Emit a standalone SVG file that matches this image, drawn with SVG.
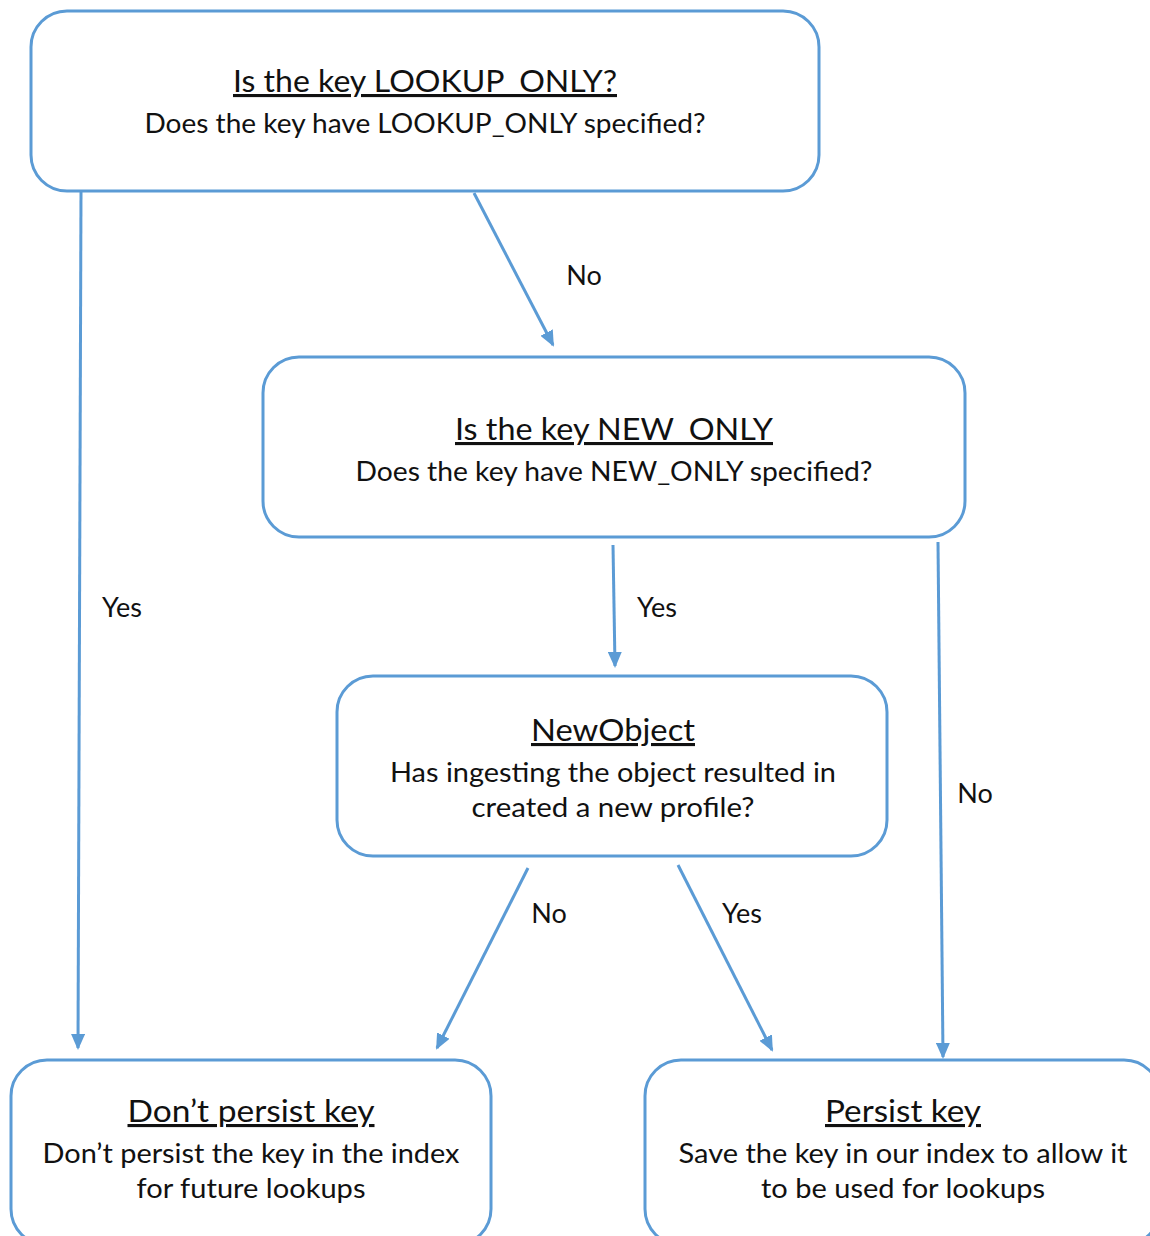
<svg xmlns="http://www.w3.org/2000/svg" width="1150" height="1236" viewBox="0 0 1150 1236">
<style>
.box{fill:#fff;stroke:#5B9BD5;stroke-width:3}
.t{font-family:Lato,"Open Sans","Liberation Sans",sans-serif;fill:#111;text-anchor:middle}
.h{font-size:31px;text-decoration:underline}
.s{font-size:26px}
.l{font-family:Lato,"Open Sans","Liberation Sans",sans-serif;fill:#111;font-size:27px;text-anchor:middle}
.c{stroke:#5B9BD5;stroke-width:3;fill:none;marker-end:url(#ah)}
</style>
<defs>
<marker id="ah" markerWidth="16" markerHeight="14" refX="14" refY="7" orient="auto" markerUnits="userSpaceOnUse">
<path d="M0,0 L16,7 L0,14 Z" fill="#5B9BD5"/>
</marker>
</defs>
<rect width="1150" height="1236" fill="#fff"/>
<g id="connectors">
<line class="c" x1="81" y1="192" x2="78" y2="1048"/>
<line class="c" x1="474" y1="193" x2="553" y2="345"/>
<line class="c" x1="613" y1="545" x2="615" y2="666"/>
<line class="c" x1="938" y1="542" x2="943" y2="1057"/>
<line class="c" x1="528" y1="868" x2="437" y2="1048"/>
<line class="c" x1="678" y1="865" x2="772" y2="1050"/>
<text class="l" x="584" y="285">No</text>
<text class="l" x="122" y="617">Yes</text>
<text class="l" x="657" y="617">Yes</text>
<text class="l" x="975" y="803">No</text>
<text class="l" x="549" y="923">No</text>
<text class="l" x="742" y="923">Yes</text>
</g>
<g id="n1">
<rect class="box" x="31" y="11" width="788" height="180" rx="36"/>
<text class="t h" x="425" y="92" textLength="384" lengthAdjust="spacingAndGlyphs">Is the key LOOKUP_ONLY?</text>
<text class="t s" x="425" y="133" textLength="561" lengthAdjust="spacingAndGlyphs">Does the key have LOOKUP_ONLY specified?</text>
</g>
<g id="n2">
<rect class="box" x="263" y="357" width="702" height="180" rx="36"/>
<text class="t h" x="614" y="440" textLength="318" lengthAdjust="spacingAndGlyphs">Is the key NEW_ONLY</text>
<text class="t s" x="614" y="481" textLength="517" lengthAdjust="spacingAndGlyphs">Does the key have NEW_ONLY specified?</text>
</g>
<g id="n3">
<rect class="box" x="337" y="676" width="550" height="180" rx="36"/>
<text class="t h" x="613" y="741" textLength="164" lengthAdjust="spacingAndGlyphs">NewObject</text>
<text class="t s" x="613" y="782" textLength="446" lengthAdjust="spacingAndGlyphs">Has ingesting the object resulted in</text>
<text class="t s" x="613" y="817" textLength="283" lengthAdjust="spacingAndGlyphs">created a new profile?</text>
</g>
<g id="n4">
<rect class="box" x="11" y="1060" width="480" height="185" rx="36"/>
<text class="t h" x="251" y="1122" textLength="247" lengthAdjust="spacingAndGlyphs">Don’t persist key</text>
<text class="t s" x="251" y="1163" textLength="417" lengthAdjust="spacingAndGlyphs">Don’t persist the key in the index</text>
<text class="t s" x="251" y="1198" textLength="229" lengthAdjust="spacingAndGlyphs">for future lookups</text>
</g>
<g id="n5">
<rect class="box" x="645" y="1060" width="515" height="185" rx="36"/>
<text class="t h" x="903" y="1122" textLength="156" lengthAdjust="spacingAndGlyphs">Persist key</text>
<text class="t s" x="903" y="1163" textLength="449" lengthAdjust="spacingAndGlyphs">Save the key in our index to allow it</text>
<text class="t s" x="903" y="1198" textLength="284" lengthAdjust="spacingAndGlyphs">to be used for lookups</text>
</g>
</svg>
